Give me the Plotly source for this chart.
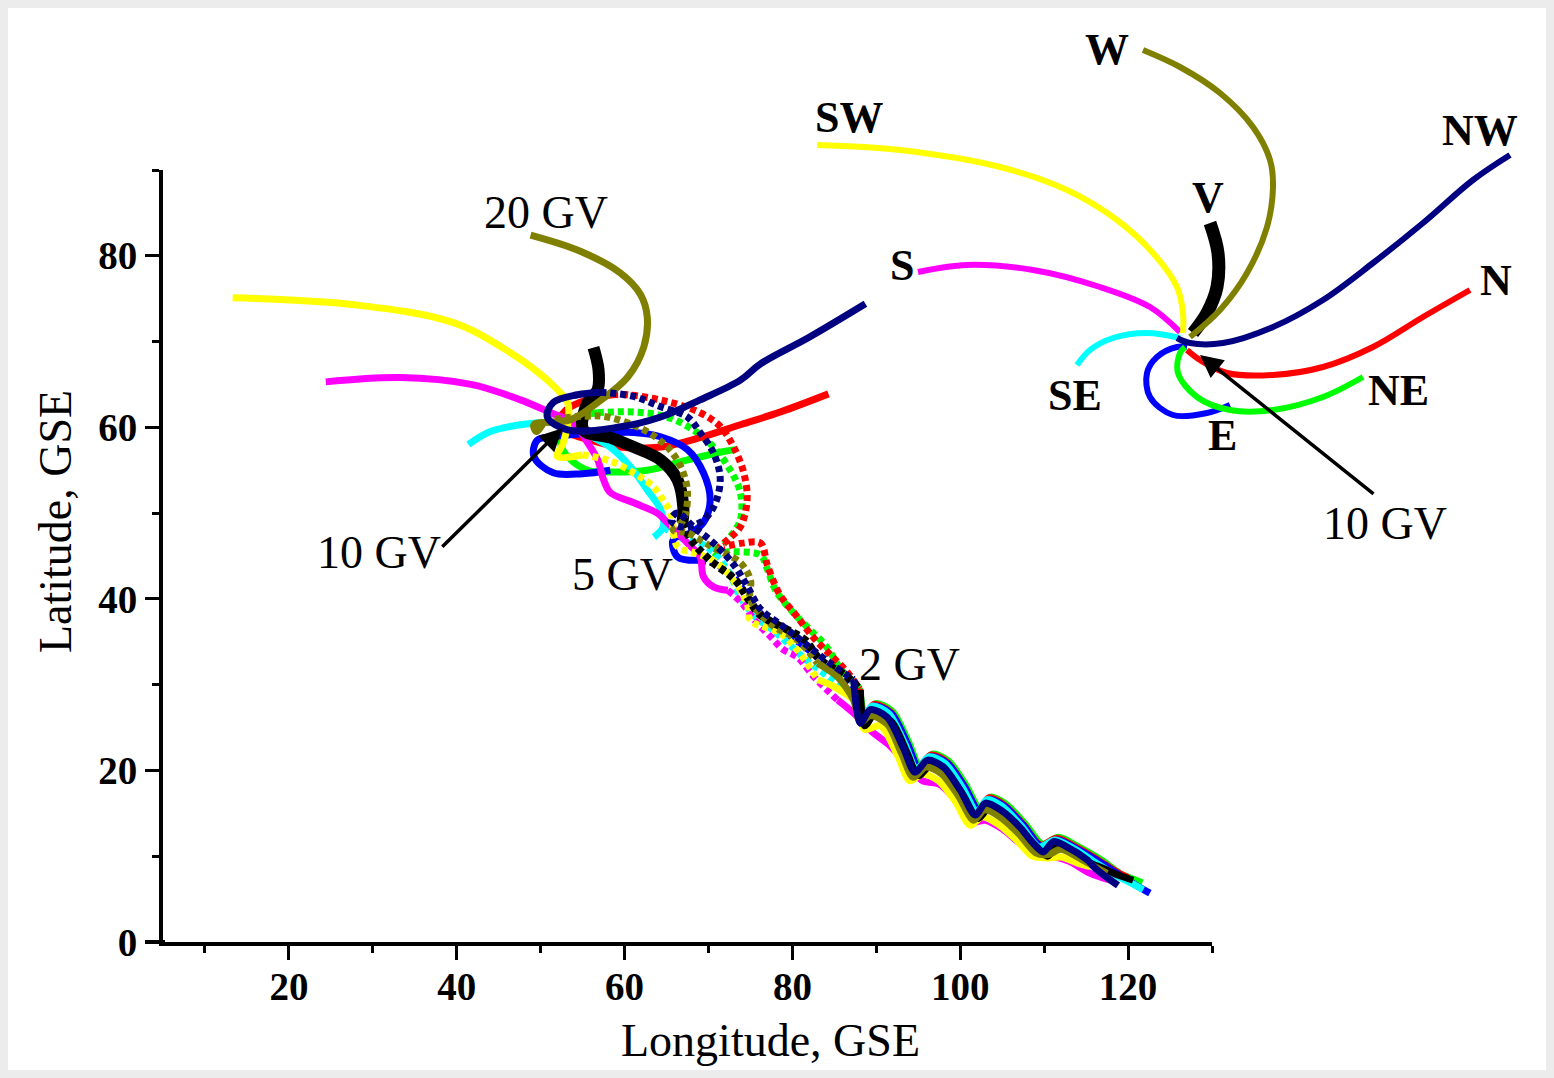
import plotly.graph_objects as go

# ---------------- main panel data (Longitude, Latitude GSE) ----------------
# V (black)
V_hi_x = [56.3, 56.9, 56.8, 55.6, 55.1, 58.3, 61.1, 64.3, 66.3, 67.0, 66.9]
V_hi_y = [69.3, 66.7, 64.4, 62.9, 59.7, 58.8, 57.7, 56.2, 53.9, 50.7, 48.9]
V_mid_x = [66.9, 67.9, 70.2, 73.2, 74.8, 76.2, 79.4, 81.5, 83.3, 86.3, 88.1]
V_mid_y = [48.9, 46.9, 44.5, 42.2, 39.9, 38.1, 36.4, 35.2, 32.9, 31.1, 29.4]
V_lo_x = [88.1, 88.6, 89.8, 91.8, 93.6, 95.0, 96.5, 98.4, 100.3, 102.1, 103.4, 105.2, 107.4, 109.2, 110.4, 111.5, 113.1, 115.5, 117.0, 118.8, 120.6]
V_lo_y = [29.4, 25.2, 26.5, 25.7, 22.2, 19.4, 20.6, 19.8, 17.2, 14.4, 15.6, 14.9, 12.8, 11.0, 10.0, 11.1, 10.6, 9.2, 8.6, 7.8, 7.2]

# NW (navy)
NW_hi_x = [88.7, 82.0, 76.2, 73.8, 69.0, 64.3, 59.2, 53.2, 50.8, 51.5, 54.4, 57.1]
NW_hi_y = [74.4, 70.5, 67.4, 65.5, 63.2, 61.2, 60.0, 59.7, 61.2, 62.9, 63.8, 64.1]
NW_mid_x = [57.1, 61.1, 64.3, 67.5, 69.0, 70.6, 71.4, 70.6, 69.0, 66.7, 65.5, 66.3, 68.2, 70.6, 73.0, 74.6, 76.2, 78.6, 80.6, 82.5, 84.5, 86.5, 87.3]
NW_mid_y = [64.1, 63.6, 62.4, 61.2, 59.4, 57.0, 53.9, 50.7, 48.9, 48.4, 49.2, 50.0, 48.4, 46.5, 44.0, 41.5, 38.8, 37.0, 35.5, 34.0, 32.5, 31.1, 30.6]
NW_lo_x = [87.3, 88.1, 89.3, 91.3, 93.2, 94.6, 96.1, 98.0, 100.0, 101.8, 103.0, 104.8, 107.1, 108.7, 109.9, 111.1, 112.7, 115.1, 116.3, 117.5, 118.8]
NW_lo_y = [30.6, 25.5, 27.1, 26.2, 22.7, 19.8, 21.2, 20.4, 17.7, 14.8, 16.2, 15.4, 13.4, 11.5, 10.5, 11.7, 11.1, 9.6, 8.4, 7.5, 6.6]

# W (olive)
W_hi_x = [48.8, 54.8, 59.5, 61.9, 62.7, 62.3, 60.4, 56.8, 53.6, 49.2, 49.5, 50.5]
W_hi_y = [82.4, 80.5, 78.0, 75.5, 72.9, 69.4, 65.9, 62.9, 60.9, 60.3, 59.5, 60.8]
W_mid_x = [50.5, 55.2, 58.0, 62.3, 65.1, 66.7, 67.5, 67.0, 65.8, 67.5, 70.5, 73.8, 75.0, 75.0, 77.5, 80.6, 83.0]
W_mid_y = [60.8, 61.3, 61.2, 59.7, 57.7, 55.4, 52.4, 49.2, 48.0, 47.7, 46.0, 44.2, 42.2, 39.9, 37.0, 35.2, 32.5]
W_lo_x = [83.0, 85.4, 87.3, 88.1, 89.3, 91.3, 93.0, 94.4, 95.9, 97.8, 99.8, 101.6, 102.9, 104.7, 107.0, 109.0, 110.5, 112.0, 114.5, 116.0, 117.5]
W_lo_y = [32.5, 30.9, 28.2, 25.6, 26.4, 25.4, 22.0, 19.2, 20.4, 19.6, 17.0, 14.2, 15.4, 14.6, 12.6, 10.4, 10.2, 10.8, 9.6, 8.8, 8.0]

# SW (yellow)
SW_hi_x = [13.3, 27.7, 39.6, 46.4, 50.8, 53.2, 53.3, 52.7, 52.0, 55.0]
SW_hi_y = [75.1, 74.3, 72.2, 68.7, 65.5, 62.9, 60.9, 58.2, 56.6, 56.8]
SW_mid_x = [55.0, 58.5, 61.9, 63.5, 64.6, 65.5, 66.3, 68.2, 70.5, 72.3, 74.6, 75.0, 78.6, 80.6, 83.0]
SW_mid_y = [56.8, 56.0, 54.2, 53.0, 51.5, 50.0, 46.1, 45.4, 44.5, 43.0, 39.5, 37.5, 36.0, 34.0, 30.6]
SW_lo_x = [83.0, 84.9, 87.7, 88.6, 90.5, 92.6, 94.0, 95.5, 97.4, 99.4, 101.2, 102.6, 104.4, 106.7, 108.6, 110.4, 112.0, 114.0, 115.5]
SW_lo_y = [30.6, 29.8, 27.8, 24.8, 25.2, 21.6, 18.8, 19.6, 18.8, 16.4, 13.6, 14.6, 13.8, 11.9, 10.0, 9.8, 9.9, 9.2, 8.8]

# S (magenta)
S_hi_x = [24.4, 33.3, 41.7, 47.6, 51.2, 53.9, 55.6, 56.8, 57.5, 58.3, 61.1, 63.9, 65.1, 67.5, 69.0, 69.4, 70.6, 72.3]
S_hi_y = [65.3, 65.8, 65.0, 63.2, 61.7, 60.5, 58.2, 56.2, 53.9, 52.4, 51.2, 50.0, 48.9, 46.5, 44.9, 42.6, 41.4, 41.0]
S_mid_x = [72.3, 74.0, 75.5, 77.4, 78.9, 80.6, 82.5, 84.0, 85.4]
S_mid_y = [41.0, 39.5, 37.5, 35.6, 34.1, 33.2, 31.0, 29.5, 28.2]
S_lo_x = [85.4, 87.5, 89.5, 91.5, 93.8, 95.5, 97.5, 99.5, 101.5, 103.0, 105.0, 107.0, 109.0, 111.0, 113.0, 115.5, 117.9]
S_lo_y = [28.2, 26.5, 24.5, 23.0, 20.5, 18.8, 18.4, 16.5, 14.0, 14.2, 13.2, 11.6, 10.2, 10.0, 9.4, 8.0, 7.2]

# SE (cyan)
SE_hi_x = [41.4, 44.0, 47.6, 51.2, 53.6, 55.1, 58.3, 60.7, 62.7, 64.3, 64.6, 63.5]
SE_hi_y = [58.0, 59.5, 60.3, 60.6, 60.3, 59.4, 57.7, 55.4, 52.7, 50.4, 48.4, 47.2]
SE_mid_x = [64.6, 67.0, 69.0, 70.6, 72.5, 73.8, 75.5, 77.5, 79.5, 81.5, 83.5, 85.5, 87.5]
SE_mid_y = [48.4, 47.0, 46.5, 45.4, 43.0, 40.2, 38.0, 36.5, 34.8, 33.0, 31.5, 30.0, 28.8]
SE_lo_x = [87.5, 88.3, 89.5, 91.5, 93.4, 94.8, 96.3, 98.2, 100.2, 102.0, 103.2, 105.0, 107.3, 109.4, 111.3, 113.7, 116.5, 118.5, 120.5, 121.8]
SE_lo_y = [28.8, 25.9, 27.5, 26.6, 23.1, 20.2, 21.6, 20.8, 18.1, 15.2, 16.6, 15.8, 13.5, 11.1, 11.9, 10.8, 9.0, 7.8, 6.8, 6.1]

# N (red)
N_hi_x = [84.3, 78.6, 73.8, 69.0, 64.3, 59.5, 56.0, 53.0, 52.2, 53.0, 55.5, 58.5]
N_hi_y = [63.9, 61.8, 60.3, 58.8, 57.7, 57.7, 58.5, 59.5, 60.5, 62.0, 63.2, 63.8]
N_mid_x = [58.5, 60.4, 65.1, 69.0, 71.4, 73.0, 74.2, 74.6, 73.8, 72.3, 71.4, 74.0, 76.2, 77.0, 78.5, 80.5, 82.5, 84.5, 86.5, 88.0]
N_mid_y = [63.8, 63.8, 63.0, 61.7, 60.1, 57.7, 54.7, 51.5, 48.4, 46.9, 46.1, 46.5, 46.5, 44.0, 40.5, 38.0, 35.5, 33.5, 31.5, 29.5]
N_lo_x = [88.0, 88.5, 89.7, 91.7, 93.6, 95.0, 96.5, 98.4, 100.4, 102.2, 103.4, 105.2, 107.5, 109.6, 111.5, 113.9, 116.7, 118.6, 120.0]
N_lo_y = [29.5, 26.1, 27.7, 26.8, 23.3, 20.4, 21.8, 21.0, 18.3, 15.4, 16.8, 16.0, 13.7, 11.3, 12.1, 11.0, 9.4, 8.2, 7.5]

# NE (green)
NE_hi_x = [73.2, 71.4, 67.5, 62.7, 58.3, 55.6, 53.2, 52.4, 52.6, 54.5, 56.8]
NE_hi_y = [57.4, 57.1, 56.2, 55.0, 54.8, 55.0, 56.6, 58.0, 59.7, 61.2, 61.7]
NE_mid_x = [56.8, 61.1, 65.1, 68.2, 70.6, 72.6, 73.8, 73.8, 72.3, 70.6, 73.0, 76.2, 77.0, 78.0, 80.0, 82.0, 84.0, 86.0, 88.0]
NE_mid_y = [61.7, 61.8, 61.2, 59.7, 57.7, 55.0, 52.4, 49.2, 46.9, 45.4, 45.5, 45.1, 43.5, 41.0, 38.5, 36.5, 34.5, 31.5, 29.6]
NE_lo_x = [88.0, 88.7, 89.9, 91.9, 93.8, 95.2, 96.7, 98.6, 100.6, 102.4, 103.6, 105.4, 107.7, 109.8, 111.7, 114.1, 116.9, 119.0, 121.7]
NE_lo_y = [29.6, 26.2, 27.8, 26.9, 23.4, 20.5, 21.9, 21.1, 18.4, 15.5, 16.9, 16.1, 13.8, 11.4, 12.2, 11.1, 9.5, 8.0, 6.9]

# E (blue)
E_hi_x = [58.3, 55.0, 51.5, 49.2, 49.6, 51.5, 53.2, 57.0, 61.1, 64.3, 67.5, 69.4, 70.2, 69.4, 67.9, 65.8, 66.3, 69.0]
E_hi_y = [55.0, 54.6, 54.7, 56.6, 58.5, 58.9, 59.1, 59.3, 59.4, 58.9, 57.4, 54.7, 51.5, 48.9, 47.7, 46.9, 44.9, 44.5]
E_mid_x = [69.0, 71.0, 73.0, 74.5, 76.0, 78.0, 80.0, 82.0, 84.0, 86.0, 87.8]
E_mid_y = [44.5, 44.0, 42.5, 40.5, 38.5, 37.0, 35.5, 34.0, 32.3, 30.8, 29.2]
E_lo_x = [87.8, 88.6, 89.8, 91.8, 93.7, 95.1, 96.6, 98.5, 100.5, 102.3, 103.5, 105.3, 107.6, 109.7, 111.6, 114.0, 116.8, 119.0, 121.0, 122.6]
E_lo_y = [29.2, 25.9, 27.5, 26.6, 23.1, 20.2, 21.6, 20.8, 18.1, 15.2, 16.6, 15.8, 13.5, 11.1, 11.9, 10.8, 9.2, 7.8, 6.6, 5.7]

# ---------------- inset data (zoom of the 10 GV region, relative units) ----------------
IN_W_x = [-4.0, -0.3, 3.7, 7.0, 8.7, 9.0, 8.4, 6.4, 3.7, 0.7]
IN_W_y = [29.0, 27.3, 24.7, 21.3, 18.0, 15.3, 11.3, 6.7, 3.0, 0.3]
IN_V_x = [2.7, 3.5, 3.4, 2.4, 1.0]
IN_V_y = [11.7, 8.7, 5.3, 2.7, 0.7]
IN_SW_x = [-36.6, -28.3, -18.3, -11.6, -6.6, -3.0, -0.6, 0.0, 0.0]
IN_SW_y = [19.5, 19.0, 17.3, 15.0, 12.0, 8.7, 5.3, 2.7, 0.7]
IN_S_x = [-26.5, -21.6, -15.0, -8.3, -3.3, -0.3]
IN_S_y = [6.8, 7.5, 7.0, 5.3, 3.3, 0.8]
IN_SE_x = [-10.6, -9.3, -7.0, -3.6, -0.3]
IN_SE_y = [-2.5, -1.0, 0.2, 0.7, 0.2]
IN_NW_x = [32.7, 29.0, 24.0, 19.0, 14.0, 9.0, 4.0, 0.7, -0.6]
IN_NW_y = [18.5, 16.0, 11.7, 7.7, 4.0, 1.3, -0.3, -0.3, 0.2]
IN_N_x = [28.7, 24.0, 19.0, 14.0, 9.0, 4.4, 1.7, 0.4]
IN_N_y = [5.0, 2.3, -0.7, -2.7, -3.5, -3.3, -2.0, -1.0]
IN_NE_x = [18.0, 14.0, 9.0, 4.7, 1.4, -0.5, -0.3, 0.2]
IN_NE_y = [-3.7, -5.7, -7.0, -7.0, -5.7, -3.3, -1.3, -0.7]
IN_E_x = [4.7, 2.4, -1.0, -3.3, -3.6, -2.6, -0.6, 0.4]
IN_E_y = [-6.5, -7.3, -7.5, -5.7, -3.3, -1.7, -0.7, -0.7]

# labels
GV_labels = ["20 GV", "10 GV", "5 GV", "2 GV", "1 GV"]
GV_label_x = [50.6, 30.7, 59.8, 94.0, 130.4]
GV_label_y = [85.1, 45.4, 42.8, 32.3, 10.1]
DIR_labels = ["W", "SW", "NW", "V", "S", "N", "SE", "NE", "E"]
DIR_label_x = [-7.6, -33.4, 29.7, 2.5, -28.1, 31.3, -10.8, 21.5, 3.9]
DIR_label_y = [29.0, 22.2, 21.0, 14.3, 7.5, 6.0, -5.5, -5.0, -9.5]

COL = {"V": "#000000", "W": "#808000", "SW": "#ffff00", "NW": "#000080", "S": "#ff00ff",
       "N": "#ff0000", "SE": "#00ffff", "NE": "#00ff00", "E": "#0000ff"}

SERIF = "Liberation Serif, Times New Roman, serif"
W_FIG, H_FIG = 1554, 1078

fig = go.Figure()

main = {
    "NE": (NE_hi_x, NE_hi_y, NE_mid_x, NE_mid_y, NE_lo_x, NE_lo_y),
    "N": (N_hi_x, N_hi_y, N_mid_x, N_mid_y, N_lo_x, N_lo_y),
    "E": (E_hi_x, E_hi_y, E_mid_x, E_mid_y, E_lo_x, E_lo_y),
    "SE": (SE_hi_x, SE_hi_y, SE_mid_x, SE_mid_y, SE_lo_x, SE_lo_y),
    "S": (S_hi_x, S_hi_y, S_mid_x, S_mid_y, S_lo_x, S_lo_y),
    "SW": (SW_hi_x, SW_hi_y, SW_mid_x, SW_mid_y, SW_lo_x, SW_lo_y),
    "V": (V_hi_x, V_hi_y, V_mid_x, V_mid_y, V_lo_x, V_lo_y),
    "W": (W_hi_x, W_hi_y, W_mid_x, W_mid_y, W_lo_x, W_lo_y),
    "NW": (NW_hi_x, NW_hi_y, NW_mid_x, NW_mid_y, NW_lo_x, NW_lo_y),
}
for k, (hx, hy, mx, my, lx, ly) in main.items():
    wide = 12 if k == "V" else 7
    fig.add_trace(go.Scatter(x=hx, y=hy, mode="lines",
                             line=dict(color=COL[k], width=wide, shape="spline", smoothing=1.0),
                             showlegend=False, hoverinfo="skip"))
    fig.add_trace(go.Scatter(x=mx, y=my, mode="lines",
                             line=dict(color=COL[k], width=8 if k == "V" else 7, dash="6px,4px",
                                       shape="spline", smoothing=1.0),
                             showlegend=False, hoverinfo="skip"))
    fig.add_trace(go.Scatter(x=lx, y=ly, mode="lines",
                             line=dict(color=COL[k], width=7, shape="spline", smoothing=0.8),
                             showlegend=False, hoverinfo="skip"))

inset = {
    "SE": (IN_SE_x, IN_SE_y), "S": (IN_S_x, IN_S_y), "SW": (IN_SW_x, IN_SW_y),
    "E": (IN_E_x, IN_E_y), "NE": (IN_NE_x, IN_NE_y), "N": (IN_N_x, IN_N_y),
    "V": (IN_V_x, IN_V_y), "W": (IN_W_x, IN_W_y), "NW": (IN_NW_x, IN_NW_y),
}
for k, (ix, iy) in inset.items():
    fig.add_trace(go.Scatter(x=ix, y=iy, mode="lines", xaxis="x2", yaxis="y2",
                             line=dict(color=COL[k], width=13 if k == "V" else 6,
                                       shape="spline", smoothing=1.0),
                             showlegend=False, hoverinfo="skip"))

ann = []
for t, x, y in zip(GV_labels, GV_label_x, GV_label_y):
    ann.append(dict(text=t, x=x, y=y, xref="x", yref="y", showarrow=False,
                    xanchor="center", yanchor="middle",
                    font=dict(family=SERIF, size=46, color="black")))
# arrow in main panel
ann.append(dict(text="", x=52.6, y=59.9, ax=38.1, ay=45.9, xref="x", yref="y", axref="x", ayref="y",
                showarrow=True, arrowhead=2, arrowsize=1.3, arrowwidth=3.5, arrowcolor="black"))
for t, x, y in zip(DIR_labels, DIR_label_x, DIR_label_y):
    ann.append(dict(text=t, x=x, y=y, xref="x2", yref="y2", showarrow=False,
                    xanchor="center", yanchor="middle",
                    font=dict(family=SERIF, size=44, color="black", weight="bold")))
ann.append(dict(text="10 GV", x=20.2, y=-18.3, xref="x2", yref="y2", showarrow=False,
                xanchor="center", yanchor="middle",
                font=dict(family=SERIF, size=46, color="black")))
ann.append(dict(text="", x=1.7, y=-1.5, ax=19.2, ay=-15.5, xref="x2", yref="y2", axref="x2", ayref="y2",
                showarrow=True, arrowhead=2, arrowsize=1.3, arrowwidth=3.5, arrowcolor="black"))
# axis titles
ann.append(dict(text="Longitude, GSE", x=770 / W_FIG, y=(H_FIG - 1040) / H_FIG, xref="paper", yref="paper",
                xanchor="center", yanchor="middle",
                showarrow=False, font=dict(family=SERIF, size=46, color="black")))
ann.append(dict(text="Latitude, GSE", x=55 / W_FIG, y=(H_FIG - 522) / H_FIG, xref="paper", yref="paper",
                xanchor="center", yanchor="middle",
                showarrow=False, textangle=-90, font=dict(family=SERIF, size=46, color="black")))

shapes = [
    dict(type="rect", xref="paper", yref="paper", x0=8 / W_FIG, x1=1546 / W_FIG,
         y0=8 / H_FIG, y1=1070 / H_FIG, fillcolor="white", line=dict(width=0), layer="below"),
    dict(type="line", xref="paper", yref="paper", x0=145 / W_FIG, x1=165 / W_FIG,
         y0=(H_FIG - 942) / H_FIG, y1=(H_FIG - 942) / H_FIG, line=dict(color="black", width=4)),
]

tickfont = dict(family=SERIF, size=39, color="black", weight="bold")
axis_common = dict(showline=True, linewidth=4, linecolor="black", ticks="outside", ticklen=14,
                   tickwidth=3, tickcolor="black", showgrid=False, zeroline=False,
                   tickfont=tickfont, automargin=False)

fig.update_layout(
    width=W_FIG, height=H_FIG,
    margin=dict(l=0, r=0, t=0, b=0),
    paper_bgcolor="#ececec", plot_bgcolor="rgba(0,0,0,0)",
    xaxis=dict(domain=[163 / W_FIG, 1212 / W_FIG], range=[5, 130], tick0=0, dtick=20,
               ticklabelstandoff=-7,
               minor=dict(dtick=10, tick0=0, ticks="outside", ticklen=7, tickwidth=3, tickcolor="black"),
               **axis_common),
    yaxis=dict(domain=[(H_FIG - 942) / H_FIG, (H_FIG - 170) / H_FIG], range=[0, 90], tick0=0, dtick=20,
               minor=dict(dtick=10, tick0=0, ticks="outside", ticklen=7, tickwidth=3, tickcolor="black"),
               **axis_common),
    xaxis2=dict(domain=[800 / W_FIG, 1540 / W_FIG], range=[-38.3, 35.7], visible=False, anchor="y2"),
    yaxis2=dict(domain=[(H_FIG - 560) / H_FIG, (H_FIG - 20) / H_FIG], range=[-22, 32], visible=False, anchor="x2"),
    annotations=ann,
    shapes=shapes,
)

fig.write_html("out.html", config={"displayModeBar": False},
               post_script="document.body.style.margin='0px';document.body.style.overflow='hidden';")
